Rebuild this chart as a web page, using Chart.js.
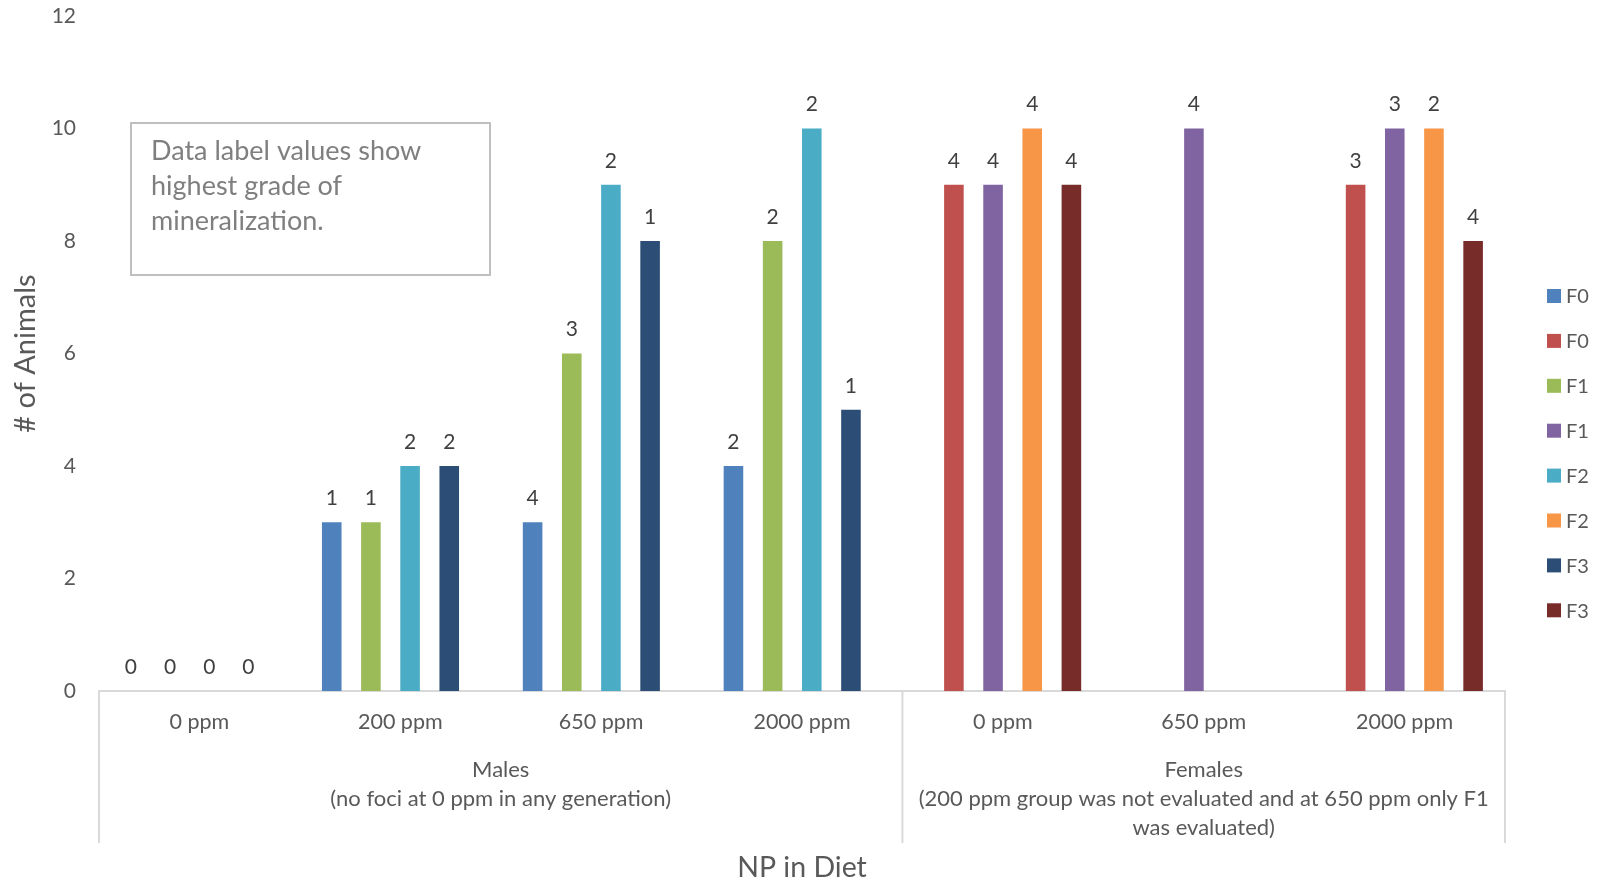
<!DOCTYPE html>
<html>
<head>
<meta charset="utf-8">
<script src="https://cdn.jsdelivr.net/npm/chart.js@4.4.1/dist/chart.umd.min.js"></script>
<style>
  html, body { margin: 0; padding: 0; background: #ffffff; }
  #wrap { width: 1600px; height: 882px; position: relative; }
</style>
</head>
<body>
<div id="wrap"><canvas id="chart" width="1600" height="882"></canvas></div>
<script>
// Dose categories along the x axis (first label row)
const doseLabels = ['0 ppm', '200 ppm', '650 ppm', '2000 ppm', '0 ppm', '650 ppm', '2000 ppm'];

// Second label row: sex groups and the range of dose categories each one spans
const groupTitles = [
  ['Males', '(no foci at 0 ppm in any generation)'],
  ['Females', '(200 ppm group was not evaluated and at 650 ppm only F1', 'was evaluated)']
];
const groupFirst = [0, 4];
const groupLast = [3, 6];

// Number of animals with mineralization foci, per generation
const maleF0   = [0, 3, 3, 4, null, null, null];
const femaleF0 = [null, null, null, null, 9, null, 9];
const maleF1   = [0, 3, 6, 8, null, null, null];
const femaleF1 = [null, null, null, null, 9, 10, 10];
const maleF2   = [0, 4, 9, 10, null, null, null];
const femaleF2 = [null, null, null, null, 10, null, 10];
const maleF3   = [0, 4, 8, 5, null, null, null];
const femaleF3 = [null, null, null, null, 9, null, 8];

// Highest grade of mineralization, printed above each bar
const gradeMaleF0   = [0, 1, 4, 2, null, null, null];
const gradeFemaleF0 = [null, null, null, null, 4, null, 3];
const gradeMaleF1   = [0, 1, 3, 2, null, null, null];
const gradeFemaleF1 = [null, null, null, null, 4, 4, 3];
const gradeMaleF2   = [0, 2, 2, 2, null, null, null];
const gradeFemaleF2 = [null, null, null, null, 4, null, 2];
const gradeMaleF3   = [0, 2, 1, 1, null, null, null];
const gradeFemaleF3 = [null, null, null, null, 4, null, 4];

// Y axis range
const yMin = 0;
const yMax = 12;
const yStep = 2;

const FONT = 'Lato, "Open Sans", sans-serif';

const seriesNames  = ['F0', 'F0', 'F1', 'F1', 'F2', 'F2', 'F3', 'F3'];
const seriesValues = [maleF0, femaleF0, maleF1, femaleF1, maleF2, femaleF2, maleF3, femaleF3];
const seriesGrades = [gradeMaleF0, gradeFemaleF0, gradeMaleF1, gradeFemaleF1,
                      gradeMaleF2, gradeFemaleF2, gradeMaleF3, gradeFemaleF3];
const seriesColors = ['#4F81BD', '#C0504D', '#9BBB59', '#8064A2',
                      '#4BACC6', '#F79646', '#2C4D75', '#772C2A'];

// Grade values above the bars
const gradeLabels = {
  id: 'gradeLabels',
  afterDatasetsDraw(chart) {
    const ctx = chart.ctx;
    ctx.save();
    ctx.font = '21px ' + FONT;
    ctx.fillStyle = '#404040';
    ctx.textAlign = 'center';
    ctx.textBaseline = 'middle';
    chart.data.datasets.forEach((ds, i) => {
      const meta = chart.getDatasetMeta(i);
      meta.data.forEach((bar, j) => {
        const g = seriesGrades[i][j];
        if (g === null || ds.data[j] === null) return;
        ctx.fillText(String(g), bar.x, bar.y - 24);
      });
    });
    ctx.restore();
  }
};

// Group row under the dose labels, with separator lines
const groupAxis = {
  id: 'groupAxis',
  afterDraw(chart) {
    const ctx = chart.ctx;
    const xs = chart.scales.x;
    const top = chart.chartArea.bottom;
    const lineBottom = top + 152;
    const half = (xs.getPixelForTick(1) - xs.getPixelForTick(0)) / 2;
    ctx.save();
    ctx.strokeStyle = '#D9D9D9';
    ctx.lineWidth = 2;
    const edges = [xs.left];
    groupLast.forEach(last => edges.push(xs.getPixelForTick(last) + half));
    edges.forEach(x => {
      ctx.beginPath();
      ctx.moveTo(x, top);
      ctx.lineTo(x, lineBottom);
      ctx.stroke();
    });
    ctx.font = '22px ' + FONT;
    ctx.fillStyle = '#595959';
    ctx.textAlign = 'center';
    ctx.textBaseline = 'middle';
    groupTitles.forEach((lines, g) => {
      const x0 = xs.getPixelForTick(groupFirst[g]) - half;
      const x1 = xs.getPixelForTick(groupLast[g]) + half;
      const cx = (x0 + x1) / 2;
      lines.forEach((t, k) => ctx.fillText(t, cx, top + 79 + k * 29));
    });
    ctx.restore();
  }
};

// Legend column on the right
const sideLegend = {
  id: 'sideLegend',
  afterDraw(chart) {
    const ctx = chart.ctx;
    ctx.save();
    ctx.font = '20px ' + FONT;
    ctx.textAlign = 'left';
    ctx.textBaseline = 'middle';
    chart.data.datasets.forEach((ds, i) => {
      const cy = 296 + i * 44.9;
      ctx.fillStyle = ds.backgroundColor;
      ctx.fillRect(1547, cy - 7, 14, 14);
      ctx.fillStyle = '#595959';
      ctx.fillText(ds.label, 1566, cy + 1);
    });
    ctx.restore();
  }
};

// Note box in the upper left of the plot
const noteBox = {
  id: 'noteBox',
  afterDraw(chart) {
    const ctx = chart.ctx;
    ctx.save();
    ctx.strokeStyle = '#BFBFBF';
    ctx.lineWidth = 2;
    ctx.strokeRect(131, 123, 359, 152);
    ctx.font = '27px ' + FONT;
    ctx.fillStyle = '#7F7F7F';
    ctx.textAlign = 'left';
    ctx.textBaseline = 'middle';
    ['Data label values show', 'highest grade of', 'mineralization.'].forEach((t, k) => {
      ctx.fillText(t, 151, 151 + k * 35);
    });
    ctx.restore();
  }
};

new Chart(document.getElementById('chart'), {
  type: 'bar',
  data: {
    labels: doseLabels,
    datasets: seriesNames.map((name, i) => ({
      label: name,
      data: seriesValues[i],
      backgroundColor: seriesColors[i],
      borderWidth: 0,
      barPercentage: 1.0,
      categoryPercentage: 0.78
    }))
  },
  options: {
    responsive: false,
    animation: false,
    layout: { padding: { top: 16, right: 95, bottom: 0, left: 0 } },
    plugins: {
      legend: { display: false },
      tooltip: { enabled: false }
    },
    scales: {
      x: {
        grid: { display: false, drawTicks: false },
        border: { display: true, color: '#D9D9D9', width: 2 },
        ticks: {
          color: '#595959',
          font: { family: FONT, size: 21.5 },
          padding: 18,
          maxRotation: 0,
          autoSkip: false
        },
        title: {
          display: true,
          text: 'NP in Diet',
          color: '#595959',
          font: { family: FONT, size: 28.5, lineHeight: 1 },
          padding: { top: 0, bottom: 0 }
        },
        afterFit(scale) { scale.height = 191; }
      },
      y: {
        min: yMin,
        max: yMax,
        grid: { display: false, drawTicks: true, tickLength: 23 },
        border: { display: false },
        ticks: {
          stepSize: yStep,
          color: '#595959',
          font: { family: FONT, size: 21 },
          padding: 0
        },
        title: {
          display: true,
          text: '# of Animals',
          color: '#595959',
          font: { family: FONT, size: 29 },
          padding: { top: 8, bottom: 0 }
        },
        afterFit(scale) { scale.width = 99; }
      }
    }
  },
  plugins: [gradeLabels, groupAxis, sideLegend, noteBox]
});
</script>
</body>
</html>
